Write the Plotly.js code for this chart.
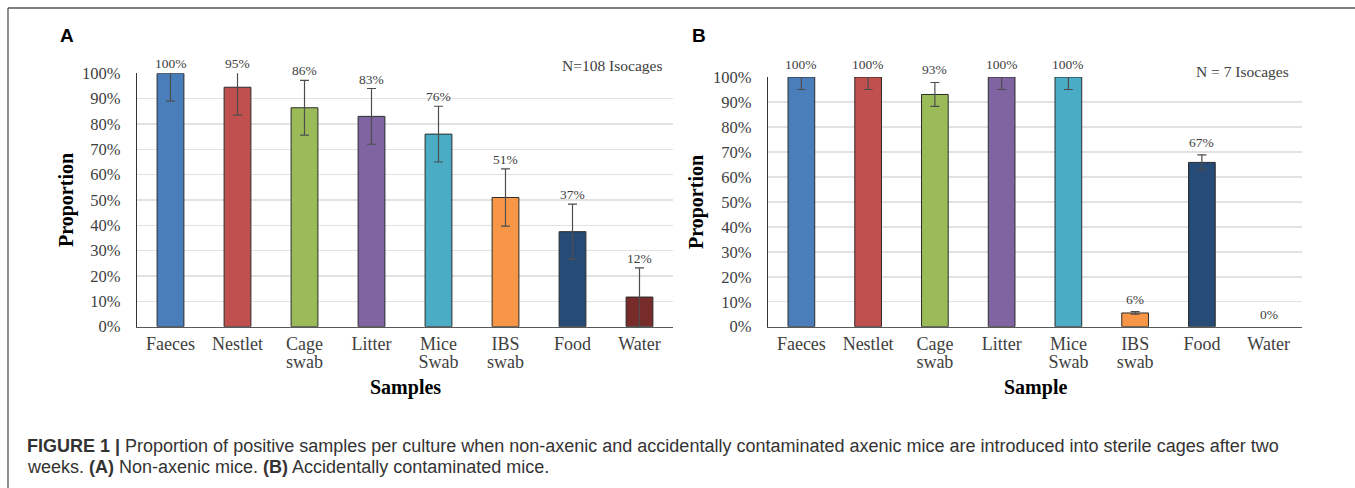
<!DOCTYPE html>
<html>
<head>
<meta charset="utf-8">
<script src="https://cdn.plot.ly/plotly-3.0.1.min.js"></script>
<style>
  html, body { margin: 0; padding: 0; background: #ffffff; }
  #chart { width: 1355px; height: 488px; }
</style>
</head>
<body>
<div id="chart"></div>
<script>
// ---------- data ----------
const categories = ["Faeces", "Nestlet", "Cage<br>swab", "Litter", "Mice<br>Swab", "IBS<br>swab", "Food", "Water"];
const colors = ["#4a7ebb", "#c0504d", "#9bbb59", "#8064a2", "#4bacc6", "#f79646", "#264b76", "#772c2a"];

const valuesA = [100, 94.5, 86.4, 83, 76, 51, 37.5, 11.7];
const errorsA = [11, 11, 10.8, 11, 11, 11.3, 10.9, 11.5];
const labelsA = ["100%", "95%", "86%", "83%", "76%", "51%", "37%", "12%"];

const valuesB = [100, 100, 93, 100, 100, 5.5, 65.8, 0];
const errorsB = [5, 5, 4.8, 5, 5, 0.5, 3, NaN];   // no error bar shown for Water
const labelsB = ["100%", "100%", "93%", "100%", "100%", "6%", "67%", "0%"];

const yTicks = [0, 10, 20, 30, 40, 50, 60, 70, 80, 90, 100];

// ---------- layout geometry (pixels) ----------
const W = 1355, H = 488;
const px = v => v / W;
const py = v => 1 - v / H;

const serif = "Liberation Serif, Times New Roman, serif";
const sans = "Liberation Sans, Arial, sans-serif";

function barTrace(vals, errs, xa, ya) {
  return {
    type: "bar",
    x: categories,
    y: vals,
    xaxis: xa,
    yaxis: ya,
    marker: { color: colors, line: { color: "#2b2b2b", width: vals.map(v => v > 0 ? 1 : 0) } },
    error_y: { type: "data", array: errs, visible: true, color: "#4d4d4d", thickness: 1.2, width: 4.5 },
    hoverinfo: "skip",
    showlegend: false
  };
}

function valueAnnotations(vals, errs, labels, xref, yref, shift) {
  return vals.map((v, i) => ({
    x: categories[i], y: Math.min(v + (errs[i] || 0), 100),
    xref: xref, yref: yref,
    text: labels[i], showarrow: false,
    xanchor: "center", yanchor: "bottom", yshift: shift,
    font: { family: serif, size: 13.5, color: "#404040" }
  }));
}

const yAxisCommon = {
  range: [0, 100],
  tickvals: yTicks,
  ticktext: yTicks.map(t => t + "%"),
  showgrid: true, gridcolor: "#e2e2e2", gridwidth: 1.5,
  showline: true, linecolor: "#333333", linewidth: 1.3,
  ticks: "", ticklabelstandoff: 12,
  tickfont: { family: serif, size: 16.5, color: "#404040" },
  zeroline: false, fixedrange: true
};
const xAxisCommon = {
  showline: true, linecolor: "#595959", linewidth: 1.5,
  ticks: "", ticklabelstandoff: 0,
  tickfont: { family: serif, size: 18, color: "#404040" },
  showgrid: false, fixedrange: true
};

const layout = {
  width: W, height: H,
  margin: { l: 0, r: 0, t: 0, b: 0 },
  paper_bgcolor: "#ffffff", plot_bgcolor: "rgba(0,0,0,0)",
  bargap: 0.6,
  xaxis: Object.assign({}, xAxisCommon, { domain: [px(137), px(673)], anchor: "y" }),
  yaxis: Object.assign({}, yAxisCommon, { domain: [py(326.7), py(73.3)], anchor: "x" }),
  xaxis2: Object.assign({}, xAxisCommon, { domain: [px(768), px(1302)], anchor: "y2" }),
  yaxis2: Object.assign({}, yAxisCommon, { domain: [py(326.7), py(77)], anchor: "x2" }),
  shapes: [
    { type: "line", xref: "paper", yref: "paper", x0: px(8), x1: 1.01, y0: py(8), y1: py(8), line: { color: "#555555", width: 1.3 } },
    { type: "line", xref: "paper", yref: "paper", x0: px(8), x1: px(8), y0: py(8), y1: -0.01, line: { color: "#555555", width: 1.3 } }
  ],
  annotations: [
    ...valueAnnotations(valuesA, errorsA, labelsA, "x", "y", 0),
    ...valueAnnotations(valuesB, errorsB, labelsB, "x2", "y2", 3),
    { xref: "paper", yref: "paper", x: px(67), y: py(36), text: "<b>A</b>", showarrow: false, xanchor: "center", yanchor: "middle", font: { family: sans, size: 19, color: "#000000" } },
    { xref: "paper", yref: "paper", x: px(699), y: py(36), text: "<b>B</b>", showarrow: false, xanchor: "center", yanchor: "middle", font: { family: sans, size: 19, color: "#000000" } },
    { xref: "paper", yref: "paper", x: px(664), y: py(66), text: "N=108 Isocages", showarrow: false, xanchor: "right", yanchor: "middle", font: { family: serif, size: 15.5, color: "#404040" } },
    { xref: "paper", yref: "paper", x: px(1291), y: py(71.5), text: "N = 7 Isocages", showarrow: false, xanchor: "right", yanchor: "middle", font: { family: serif, size: 15.5, color: "#404040" } },
    { xref: "paper", yref: "paper", x: px(66), y: py(200), text: "<b>Proportion</b>", textangle: -90, showarrow: false, xanchor: "center", yanchor: "middle", font: { family: serif, size: 20, color: "#000000" } },
    { xref: "paper", yref: "paper", x: px(697), y: py(202), text: "<b>Proportion</b>", textangle: -90, showarrow: false, xanchor: "center", yanchor: "middle", font: { family: serif, size: 20, color: "#000000" } },
    { xref: "paper", yref: "paper", x: px(405), y: py(387), text: "<b>Samples</b>", showarrow: false, xanchor: "center", yanchor: "middle", font: { family: serif, size: 20, color: "#000000" } },
    { xref: "paper", yref: "paper", x: px(1035), y: py(387), text: "<b>Sample</b>", showarrow: false, xanchor: "center", yanchor: "middle", font: { family: serif, size: 20, color: "#000000" } },
    { xref: "paper", yref: "paper", x: px(25), y: py(446), text: "<b>FIGURE 1 |</b> Proportion of positive samples per culture when non-axenic and accidentally contaminated axenic mice are introduced into sterile cages after two", showarrow: false, xanchor: "left", yanchor: "middle", font: { family: sans, size: 18, color: "#333333" } },
    { xref: "paper", yref: "paper", x: px(25), y: py(467), text: "weeks. <b>(A)</b> Non-axenic mice. <b>(B)</b> Accidentally contaminated mice.", showarrow: false, xanchor: "left", yanchor: "middle", font: { family: sans, size: 18, color: "#333333" } }
  ]
};

Plotly.newPlot("chart", [barTrace(valuesA, errorsA, "x", "y"), barTrace(valuesB, errorsB, "x2", "y2")], layout, { staticPlot: true, displayModeBar: false })
  .then(() => {
    // tighten line spacing of two-line category labels (Excel-like)
    document.querySelectorAll("g.xtick text tspan.line, g.x2tick text tspan.line").forEach(t => {
      const dy = t.getAttribute("dy");
      if (dy && parseFloat(dy) !== 0) {
        t.setAttribute("dy", (parseFloat(dy) * 0.76).toFixed(3) + "em");
      }
    });
  });
</script>
</body>
</html>
